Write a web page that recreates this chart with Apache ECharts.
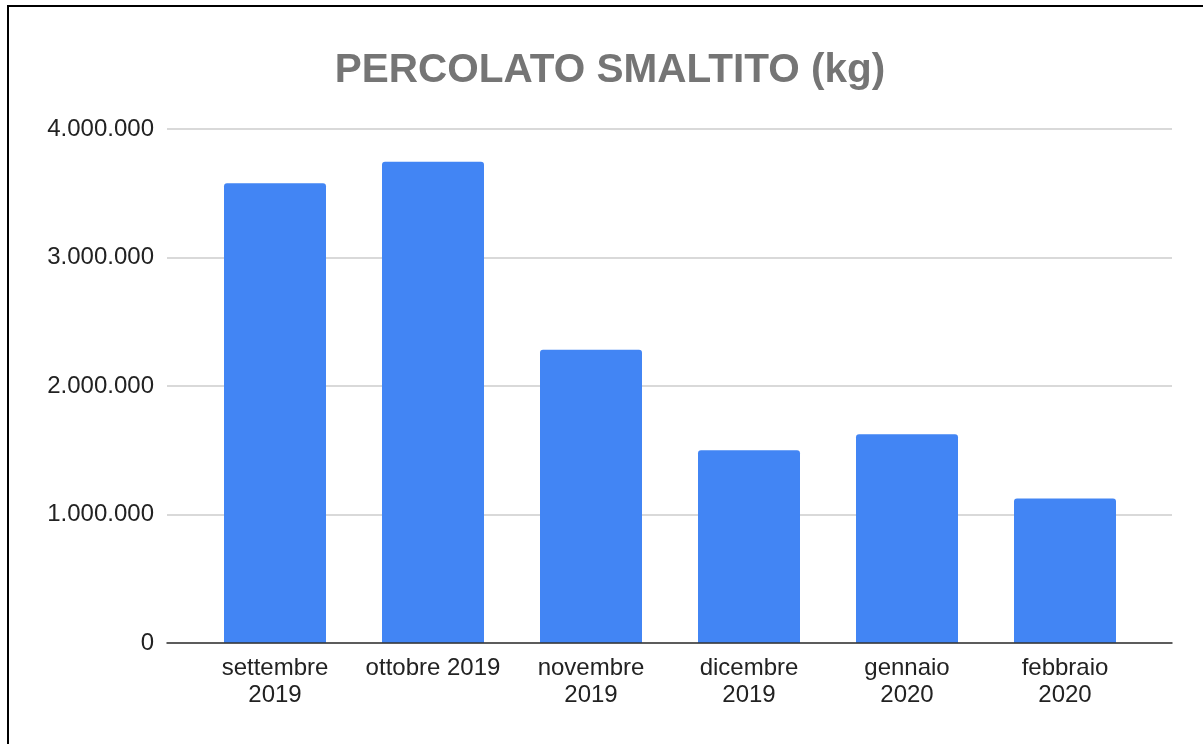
<!DOCTYPE html>
<html>
<head>
<meta charset="utf-8">
<title>PERCOLATO SMALTITO (kg)</title>
<script src="https://cdn.jsdelivr.net/npm/echarts@6/dist/echarts.min.js"></script>
<style>
  html, body { margin: 0; padding: 0; background: #fff; }
  #wrap { position: relative; width: 1203px; height: 744px; overflow: hidden; }
  #chart { width: 1203px; height: 744px; }
  #frame {
    position: absolute; left: 7px; top: 5px; width: 1300px; height: 800px;
    border-left: 2px solid #000; border-top: 2px solid #000; pointer-events: none;
  }
</style>
</head>
<body>
<div id="wrap">
  <div id="chart"></div>
  <div id="frame"></div>
</div>
<script>
const categories = ["settembre\n2019", "ottobre 2019", "novembre\n2019", "dicembre\n2019", "gennaio\n2020", "febbraio\n2020"];
const percolato = [3577000, 3746000, 2282000, 1500000, 1625000, 1124000];
const yTicks = [0, 1000000, 2000000, 3000000, 4000000];

const font = "'Liberation Sans', Arial, sans-serif";

function fmt(v) {
	return String(v).replace(/\B(?=(\d{3})+(?!\d))/g, ".");
}

const chart = echarts.init(document.getElementById("chart"));
const option = {
	animation: false,
	title: {
		text: "PERCOLATO SMALTITO (kg)",
		left: 605,
		textAlign: "center",
		top: 45,
		textStyle: {
			color: "#757575",
			fontSize: 40.5,
			fontWeight: "bold",
			fontFamily: font
		}
	},
	grid: [
		{ left: 167, right: 31, top: 129, bottom: 101 },
		{ left: 196, right: 59, top: 129, bottom: 101 }
	],
	xAxis: [
		{
			// full width baseline
			type: "category",
			gridIndex: 0,
			data: categories,
			z: 5,
			axisLabel: { show: false },
			axisTick: { show: false },
			axisLine: { show: true, lineStyle: { color: "#333", width: 1.5 } }
		},
		{
			type: "category",
			gridIndex: 1,
			data: categories,
			axisTick: { show: false },
			axisLine: { show: false },
			axisLabel: {
				color: "#222",
				fontSize: 24,
				lineHeight: 27,
				margin: 12,
				fontFamily: font,
				interval: 0
			}
		}
	],
	yAxis: [
		{
			type: "value",
			gridIndex: 0,
			min: yTicks[0],
			max: yTicks[yTicks.length - 1],
			interval: yTicks[1] - yTicks[0],
			axisLine: { show: false },
			axisTick: { show: false },
			splitLine: { lineStyle: { color: "#ccc", width: 1.5 } },
			axisLabel: {
				color: "#222",
				fontSize: 24,
				margin: 13,
				fontFamily: font,
				formatter: fmt
			}
		},
		{
			type: "value",
			gridIndex: 1,
			min: yTicks[0],
			max: yTicks[yTicks.length - 1],
			show: false,
			splitLine: { show: false }
		}
	],
	series: [
		{
			name: "PERCOLATO SMALTITO (kg)",
			type: "bar",
			xAxisIndex: 1,
			yAxisIndex: 1,
			barWidth: 102,
			itemStyle: { color: "#4285F4", borderRadius: [3, 3, 0, 0] },
			data: percolato
		}
	]
};
chart.setOption(option);
</script>
</body>
</html>
